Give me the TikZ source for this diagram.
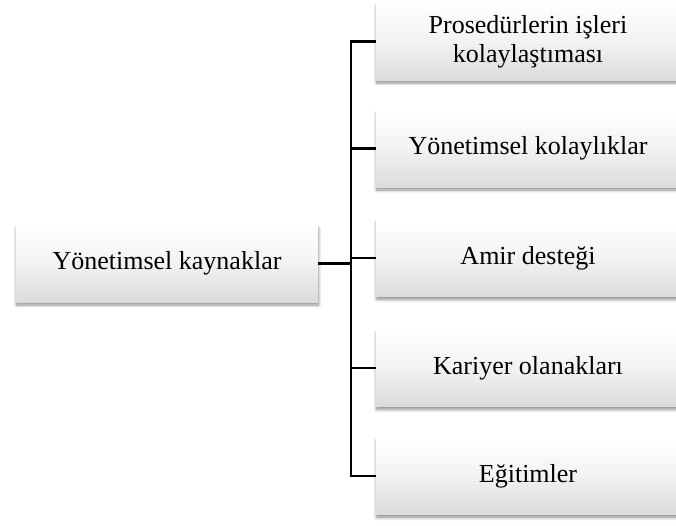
\documentclass[tikz,border=0pt]{standalone}
\usepackage{fontspec}
\setmainfont{Liberation Serif}
\usetikzlibrary{shadows.blur}
\begin{document}
\begin{tikzpicture}[x=1pt,y=-1pt,
  card/.style={minimum height=77pt, inner sep=0pt, align=center,
    font=\fontsize{26}{29}\selectfont,
    top color=white, bottom color=black!14, middle color=white!95!black,
    blur shadow={shadow xshift=0.5pt, shadow yshift=-3pt, shadow blur radius=3pt,
      shadow blur steps=8, shadow opacity=45}},
  leftcard/.style={card, minimum width=302pt},
  rightcard/.style={card, minimum width=304pt},
  trunk/.style={line width=2.6pt},
  branch/.style={line width=2.2pt},
  feed/.style={line width=3.4pt}]
  \useasboundingbox (0,0) rectangle (676,525);
  % source box
  \node[leftcard] (src) at (167,263.5) {Yönetimsel kaynaklar};
  % target boxes
  \node[rightcard] (b1) at (528,41.5) {Prosedürlerin işleri\\kolaylaştıması};
  \node[rightcard] (b2) at (528,148.5) {Yönetimsel kolaylıklar};
  \node[rightcard] (b3) at (528,258) {Amir desteği};
  \node[rightcard] (b4) at (528,368) {Kariyer olanakları};
  \node[rightcard] (b5) at (528,476) {Eğitimler};
  % junction column
  \coordinate (jx) at (351,0);
  \draw[trunk, line cap=rect] (b1.west -| jx) -- (b5.west -| jx);
  \draw[feed] (src.east) -- (src.east -| jx);
  \foreach \b in {b1,b2,b3,b4,b5}
    \draw[branch] (\b.west -| jx) -- (\b.west);
\end{tikzpicture}
\end{document}
